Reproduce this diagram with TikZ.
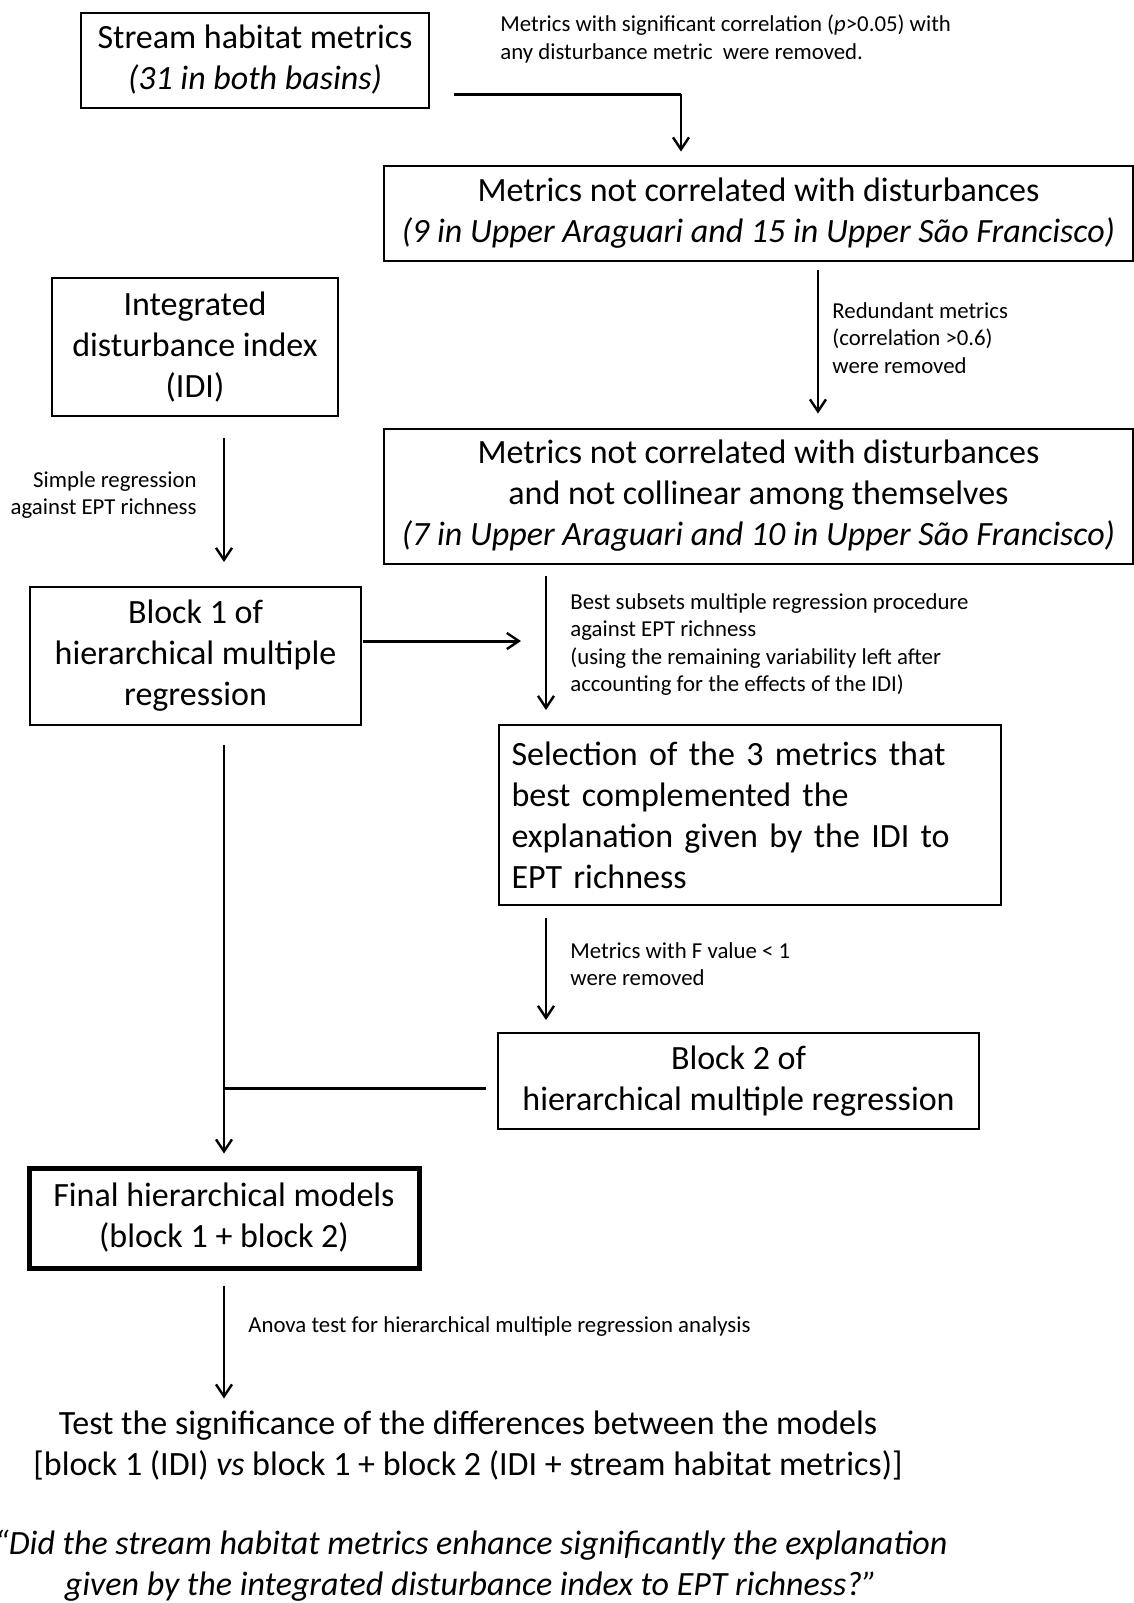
\documentclass[tikz,border=0pt]{standalone}
\usepackage{fontspec}
\setmainfont{Carlito}
\usetikzlibrary{calc,positioning,arrows.meta}

\tikzset{
  box/.style={draw,line width=1pt,align=center,inner sep=0pt,font=\fontsize{17}{20.5}\selectfont},
  finbox/.style={box,line width=2.5pt},
  note/.style={align=left,inner sep=0pt,font=\fontsize{11.4}{13.75}\selectfont},
  arr/.style={-{Straight Barb[length=6pt,width=8pt,line width=1.2pt]},line width=1.1pt},
  heavy/.style={line width=1.5pt}
}

\begin{document}
\begin{tikzpicture}[x=0.5pt,y=-0.5pt]
\useasboundingbox (0,0) rectangle (1134,1603);
% columns of the connectors
\coordinate (colA) at (224,0);
\coordinate (colB) at (546,0);
\coordinate (colC) at (818,0);
\coordinate (colD) at (681,0);
% boxes
\node[box,minimum width=174pt,minimum height=47.5pt] (shm) at (255,60) {Stream habitat metrics\\\textit{(31 in both basins)}};
\node[box,minimum width=374.5pt,minimum height=47.5pt] (nc) at (758.5,213) {Metrics not correlated with disturbances\\\textit{(9 in Upper Araguari and 15 in Upper São Francisco)}};
\node[box,minimum width=143pt,minimum height=69pt] (idi) at (195,347) {Integrated\\disturbance index\\(IDI)};
\node[box,minimum width=374.5pt,minimum height=67.5pt] (ncc) at (758.5,496) {Metrics not correlated with disturbances\\and not collinear among themselves\\\textit{(7 in Upper Araguari and 10 in Upper São Francisco)}};
\node[box,minimum width=165.5pt,minimum height=69pt] (blk1) at (195.5,656) {Block 1 of\\hierarchical multiple\\regression};
\node[box,align=left,text width=238pt,inner xsep=6.5pt,minimum height=90pt] (sel) at (749.5,815) {Selection of the 3 metrics that\\best complemented the\\explanation given by the IDI to\\EPT richness};
\node[box,minimum width=240.5pt,minimum height=48pt] (blk2) at (738.5,1081) {Block 2 of\\hierarchical multiple regression};
\node[finbox,minimum width=195pt,minimum height=50pt] (fin) at (224,1218) {Final hierarchical models\\(block 1 + block 2)};
% labels of the steps
\node[note,anchor=west] (n1) at (500,39) {Metrics with significant correlation (\textit{p}>0.05) with\\any disturbance metric\ \ were removed.};
\node[note,anchor=west] (n2) at (832,338) {Redundant metrics\\(correlation >0.6)\\were removed};
\node[note,anchor=east,align=right] (n3) at (197,495) {Simple regression\\against EPT richness};
\node[note,anchor=west] (n4) at (570,644.5) {Best subsets multiple regression procedure\\against EPT richness\\(using the remaining variability left after\\accounting for the effects of the IDI)};
\node[note,anchor=west] (n5) at (570,964) {Metrics with F value < 1\\were removed};
\node[note,anchor=west] (n6) at (248,1327) {Anova test for hierarchical multiple regression analysis};
% closing texts
\node[box,draw=none] (test) at (468,1446) {Test the significance of the differences between the models\\{}[block 1 (IDI) \textit{vs} block 1 + block 2 (IDI + stream habitat metrics)]};
\node[box,draw=none,font=\fontsize{17}{20.5}\selectfont\itshape] (qst) at (471,1566) {“Did the stream habitat metrics enhance significantly the explanation\\given by the integrated disturbance index to EPT richness?”};
% connectors
\coordinate (t1) at (681,94);
\draw[heavy] ($(shm.east |- t1)+(24,0)$) -- (t1);
\draw[arr] (t1) -- ($(nc.north -| colD)+(0,-13)$);
\draw[arr] ($(nc.south -| colC)+(0,8)$) -- ($(ncc.north -| colC)+(0,-14)$);
\draw[arr] ($(idi.south -| colA)+(0,21)$) -- ($(blk1.north -| colA)+(0,-24)$);
\draw[arr,heavy] ($(blk1.east)+(1,-15)$) -- ($(blk1.east -| colB)+(-25,-15)$);
\draw[arr] ($(ncc.south -| colB)+(0,11)$) -- ($(sel.north -| colB)+(0,-14)$);
\draw[arr] ($(sel.south -| colB)+(0,12)$) -- ($(blk2.north -| colB)+(0,-12)$);
\coordinate (j1) at ($(blk2.west)+(-11,7)$);
\draw[heavy] (j1) -- (j1 -| colA);
\draw[arr] ($(blk1.south -| colA)+(0,19)$) -- ($(fin.north)+(0,-12)$);
\draw[arr] ($(fin.south)+(0,15)$) -- ($(fin.south)+(0,128)$);
\end{tikzpicture}
\end{document}
